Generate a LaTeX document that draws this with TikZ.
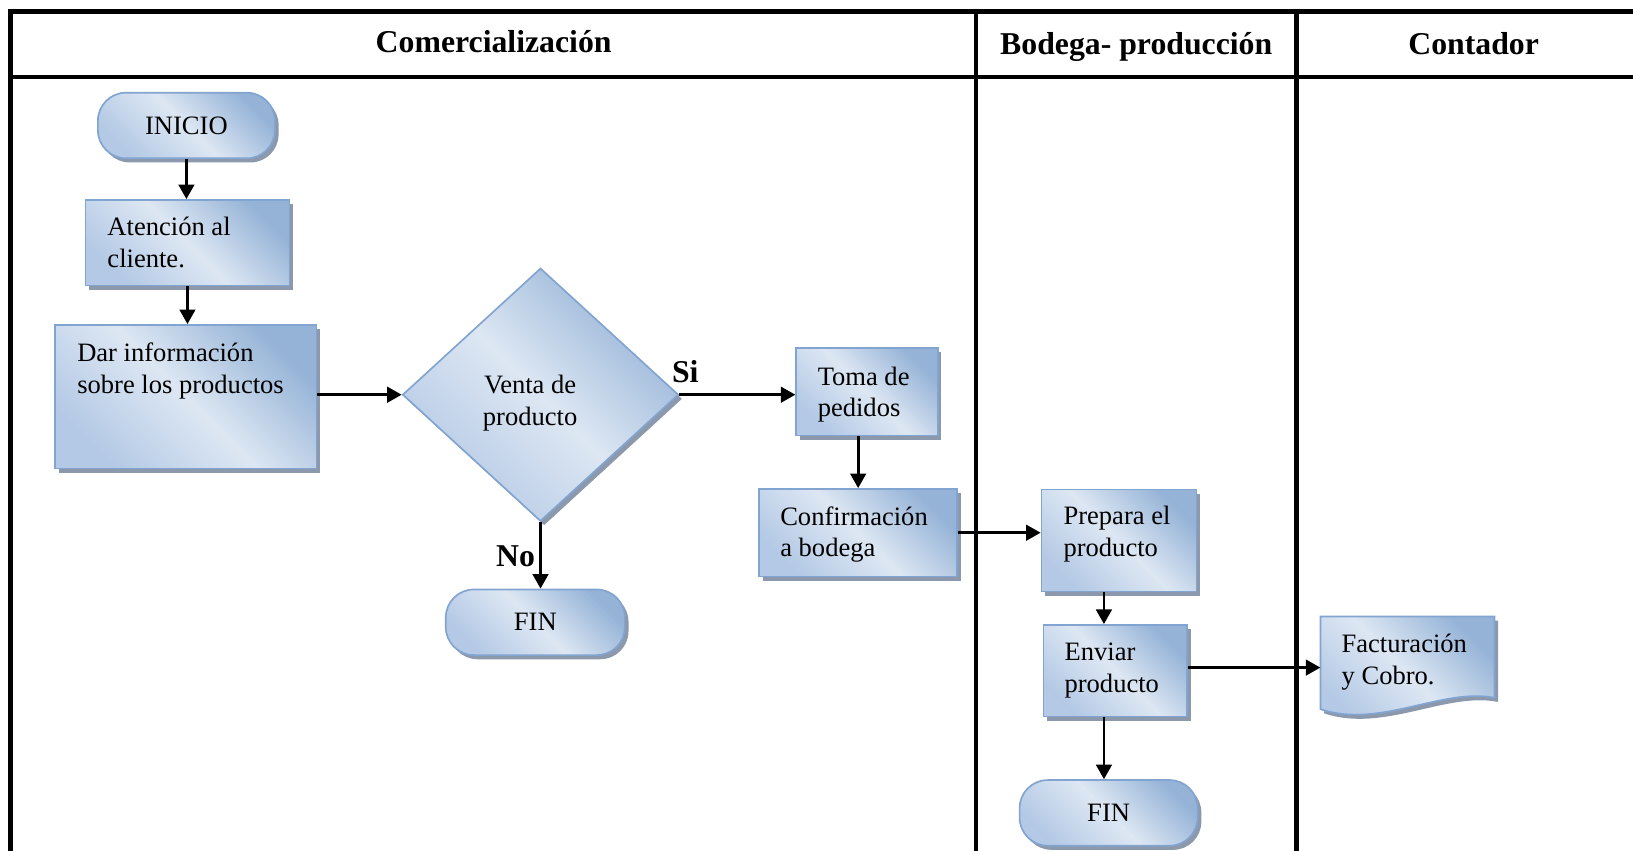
\documentclass[tikz,border=0pt]{standalone}
\usepackage{fontspec}
\setmainfont{Liberation Serif}
\usetikzlibrary{shapes.geometric,shadows,arrows.meta}
\definecolor{bord}{RGB}{130,164,208}
\definecolor{shA}{RGB}{149,179,215}
\definecolor{shB}{RGB}{221,231,243}
\definecolor{shC}{RGB}{180,201,229}
\definecolor{shad}{RGB}{140,152,172}
\newcommand\myBody{\fontsize{25.5}{30.5}\selectfont}
\newcommand\myHead{\fontsize{30.5}{36}\selectfont\bfseries}
\tikzset{
  shapebase/.style={draw=bord, line width=1.6pt, bottom color=shC, top color=shA, middle color=shB, shading angle=-45,
    drop shadow={shadow xshift=3.5pt, shadow yshift=-4pt, fill=shad, opacity=1}},
  procbox/.style={shapebase, rectangle, inner sep=0pt},
  termbox/.style={shapebase, rectangle, rounded corners=27pt, inner sep=0pt, minimum width=171pt, minimum height=63pt, font=\myBody},
  decbox/.style={shapebase, diamond, inner sep=0pt, minimum width=265pt, minimum height=243pt},
  bodytxt/.style={font=\myBody, align=left, inner sep=0pt, anchor=north west},
  lbl/.style={font=\myHead, inner sep=0pt, anchor=base},
  arr/.style={line width=2.6pt, -{Triangle[length=14pt,width=15pt]}},
  lane/.style={line width=4.2pt},
}
\begin{document}
\begin{tikzpicture}[x=1pt,y=-1pt]
\useasboundingbox (0,0) rectangle (1568,817);
% swimlane frame
\draw[lane] (1570,11) -- (10,11) -- (10,819);
\draw[lane] (10,74) -- (1570,74);
\draw[lane] (937,11) -- (937,819);
\draw[lane] (1245,11) -- (1245,819);
\node[lbl] (h1) at (474,50) {Comercialización};
\node[lbl] (h2) at (1091,52) {Bodega- producción};
\node[lbl] (h3) at (1415,52) {Contador};

% shapes
\node[termbox, minimum width=170pt] (ini) at (179,120.5) {INICIO};
\node[procbox, minimum width=196pt, minimum height=82pt] (aten) at (180,233) {};
\node[procbox, minimum width=251pt, minimum height=138pt] (dar) at (178.5,381) {};
\node[decbox] (dia) at (519,379) {};
\node[termbox, minimum width=172pt] (fin1) at (514,597.5) {FIN};
\node[procbox, minimum width=136pt, minimum height=84pt] (toma) at (832.5,376) {};
\node[procbox, minimum width=190pt, minimum height=84pt] (conf) at (824,511.5) {};
\node[procbox, minimum width=149pt, minimum height=98pt] (prep) at (1074.5,519) {};
\node[procbox, minimum width=138pt, minimum height=88pt] (env) at (1071,644) {};
\node[termbox, minimum width=171pt] (fin2) at (1064.5,780.5) {FIN};
\path[shapebase] (1268,592) -- (1435,592) -- (1435,670) .. controls (1385,660) and (1325,700) .. (1268,681) -- cycle;
\node[inner sep=0pt, minimum width=167pt, minimum height=98pt] (fact) at (1351.5,641) {};

% texts
\node[bodytxt] (t-aten) at (103,208.5) {Atención al\\cliente.};
\node[bodytxt] (t-dar) at (74,329) {Dar información\\sobre los productos};
\node[bodytxt, anchor=north, align=center] (t-dia) at (509,360) {Venta de\\producto};
\node[bodytxt] (t-toma) at (785,352) {Toma de\\pedidos};
\node[bodytxt] (t-conf) at (749,486) {Confirmación\\a bodega};
\node[bodytxt] (t-prep) at (1021,486) {Prepara el\\producto};
\node[bodytxt] (t-env) at (1022,617) {Enviar\\producto};
\node[bodytxt] (t-fact) at (1288,609) {Facturación\\y Cobro.};
\node[lbl] (si) at (658,367) {Si};
\node[lbl] (no) at (495,544) {No};

% connectors
\coordinate (cx) at (1060,0);
\draw[arr] (ini.south) -- (ini.south |- aten.north);
\draw[arr] (aten.south) -- (aten.south |- dar.north);
\draw[arr] (dar.east |- dia.west) -- (dia.west);
\draw[arr] (dia.east) -- (dia.east -| toma.west);
\draw[arr] (dia.south) -- (dia.south |- fin1.north);
\draw[arr] (toma.south -| conf.north) -- (conf.north);
\draw[arr] (conf.east) -- (conf.east -| prep.west);
\draw[arr] (prep.south -| cx) -- (env.north -| cx);
\draw[arr] (env.east |- fact.west) -- (fact.west);
\draw[arr] (env.south -| cx) -- (fin2.north -| cx);
\end{tikzpicture}
\end{document}
